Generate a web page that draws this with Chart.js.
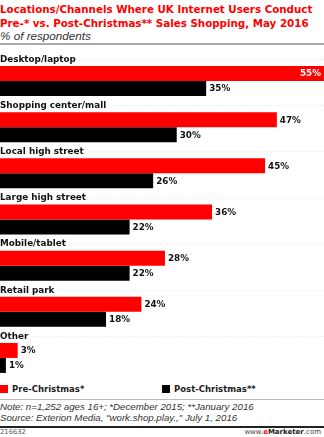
<!DOCTYPE html>
<html>
<head>
<meta charset="utf-8">
<script src="https://cdn.jsdelivr.net/npm/chart.js@4"></script>
<style>
  html, body { margin: 0; padding: 0; background: #fff; }
  body { width: 324px; height: 437px; position: relative; overflow: hidden; }
  .abs { position: absolute; white-space: nowrap; }
  .title { left: 0; top: 3px; font: bold 10.3px 'DejaVu Sans', sans-serif; line-height: 13.5px; color: #f00; }
  .sub { left: 0; top: 29px; font: italic 11.7px 'Liberation Sans', Arial, sans-serif; color: #333; }
  .rule { left: 0; width: 324px; }
  .legend { top: 384px; font: bold 8.5px 'DejaVu Sans', sans-serif; color: #222; line-height: 10px; }
  .legend i { display: inline-block; width: 8px; height: 8px; vertical-align: -1px; margin-right: 4px; }
  .note { left: 0; top: 402px; font: italic 9.7px 'Liberation Sans', Arial, sans-serif; color: #333; line-height: 10.5px; }
  .foot { top: 428px; font: 6.8px 'DejaVu Sans', sans-serif; color: #555; }
  .brand { right: 3px; top: 428px; font: 7px 'DejaVu Sans', sans-serif; color: #444; }
  .brand b { color: #222; }
  .brand .e { color: #f00; }
  #wrap { position: absolute; left: 0; top: 50px; width: 324px; height: 331px; }
</style>
</head>
<body>
<div class="abs title">Locations/Channels Where UK Internet Users Conduct<br>Pre-* vs. Post-Christmas** Sales Shopping, May 2016</div>
<div class="abs sub">% of respondents</div>
<div class="abs rule" style="top:43px;height:2px;background:#aaa"></div>

<div id="wrap"><canvas id="chart"></canvas></div>

<div class="abs legend" style="left:0"><i style="background:#f00"></i>Pre-Christmas*</div>
<div class="abs legend" style="left:162px"><i style="background:#000"></i>Post-Christmas**</div>
<div class="abs rule" style="top:399px;height:1px;background:#bbb"></div>
<div class="abs note">Note: n=1,252 ages 16+; *December 2015; **January 2016<br>Source: Exterion Media, "work.shop.play.," July 1, 2016</div>
<div class="abs rule" style="top:426px;height:2px;background:#222"></div>
<div class="abs foot" style="left:0">216632</div>
<div class="abs brand">www.<b class="e">e</b><b>Marketer</b>.com</div>

<script>
const categories = ['Desktop/laptop', 'Shopping center/mall', 'Local high street',
  'Large high street', 'Mobile/tablet', 'Retail park', 'Other'];
const preChristmas  = [55, 47, 45, 36, 28, 24, 3];
const postChristmas = [35, 30, 26, 22, 22, 18, 1];
const seriesNames = ['Pre-Christmas*', 'Post-Christmas**'];

const RED = '#ff0000';
const BLACK = '#000000';
const LABEL_FONT = 'bold 8.8px "DejaVu Sans", sans-serif';

// category names sit above each pair of bars, with a faint dotted guide
const categoryLabels = {
  id: 'categoryLabels',
  afterDatasetsDraw(chart) {
    const { ctx, chartArea, scales } = chart;
    ctx.save();
    ctx.font = LABEL_FONT;
    ctx.textBaseline = 'middle';
    categories.forEach((name, i) => {
      const y = scales.y.getPixelForValue(i) - 22;
      const w = ctx.measureText(name).width;
      ctx.strokeStyle = '#e4e4e4';
      ctx.setLineDash([1, 2]);
      ctx.beginPath();
      ctx.moveTo(w + 4, Math.round(y) + 0.5);
      ctx.lineTo(chartArea.right, Math.round(y) + 0.5);
      ctx.stroke();
      ctx.fillStyle = '#111';
      ctx.fillText(name, chartArea.left, y + 0.5);
    });
    ctx.restore();
  }
};

// percentage at the end of each bar; inside in white when it would run off
const valueLabels = {
  id: 'valueLabels',
  afterDatasetsDraw(chart) {
    const { ctx, chartArea } = chart;
    ctx.save();
    ctx.font = LABEL_FONT;
    ctx.textBaseline = 'middle';
    chart.data.datasets.forEach((ds, di) => {
      chart.getDatasetMeta(di).data.forEach((bar, i) => {
        const txt = ds.data[i] + '%';
        const w = ctx.measureText(txt).width;
        if (bar.x + w + 4 > chartArea.right) {
          ctx.fillStyle = '#fff';
          ctx.textAlign = 'right';
          ctx.fillText(txt, bar.x - 3, bar.y + 0.5);
        } else {
          ctx.fillStyle = '#111';
          ctx.textAlign = 'left';
          ctx.fillText(txt, bar.x + 3, bar.y + 0.5);
        }
      });
    });
    ctx.restore();
  }
};

new Chart(document.getElementById('chart'), {
  type: 'bar',
  data: {
    labels: categories,
    datasets: [
      { label: seriesNames[0], data: preChristmas, backgroundColor: RED },
      { label: seriesNames[1], data: postChristmas, backgroundColor: BLACK }
    ]
  },
  options: {
    indexAxis: 'y',
    responsive: true,
    maintainAspectRatio: false,
    animation: false,
    categoryPercentage: 0.65,
    barPercentage: 1.0,
    layout: { padding: { top: 8, left: 0, right: 0, bottom: 0 } },
    plugins: { legend: { display: false }, tooltip: { enabled: false } },
    scales: {
      x: { display: false, min: 0, max: 55 },
      y: { display: false }
    }
  },
  plugins: [categoryLabels, valueLabels]
});
</script>
</body>
</html>
